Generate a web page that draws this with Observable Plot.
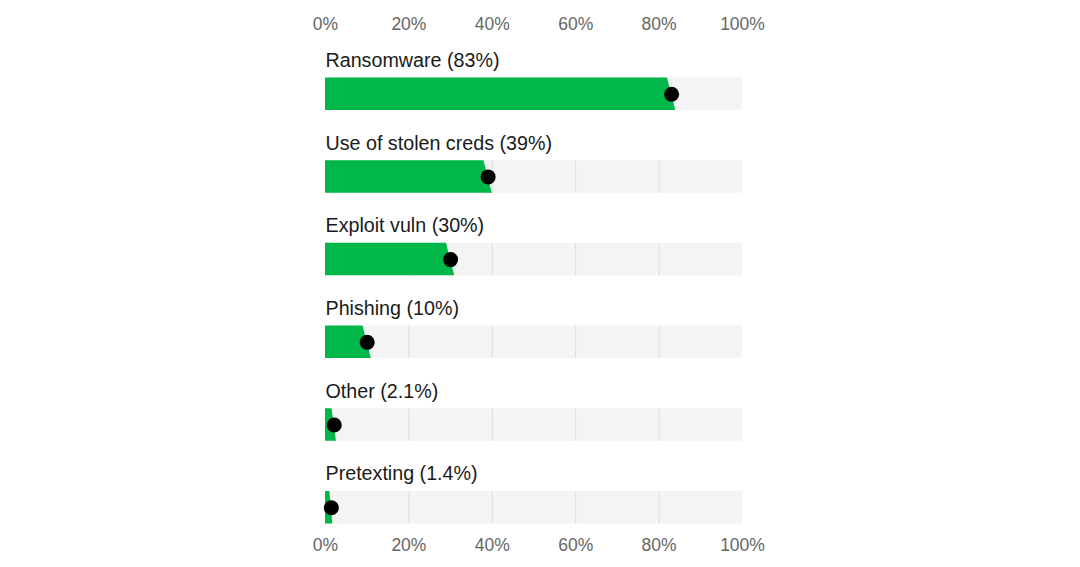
<!DOCTYPE html>
<html>
<head>
<meta charset="utf-8">
<script src="https://cdn.jsdelivr.net/npm/d3@7"></script>
<script src="https://cdn.jsdelivr.net/npm/@observablehq/plot@0.6"></script>
<style>
  html, body { margin: 0; padding: 0; background: #fff; }
  #chart svg { display: block; }
</style>
</head>
<body>
<div id="chart"></div>
<script>
const categories = ["Ransomware", "Use of stolen creds", "Exploit vuln", "Phishing", "Other", "Pretexting"];
const values = [83, 39, 30, 10, 2.1, 1.4];
const valueLabels = ["83%", "39%", "30%", "10%", "2.1%", "1.4%"];
const tickValues = [0, 20, 40, 60, 80, 100];
const gridValues = [20, 40, 60, 80];

const W = 1080, H = 567;
const rowPitch = 82.7, y0 = 52;
const bandTop = 0.308, bandBot = 0.701, labelPos = 0.097;

const rows = categories.map((c, i) => ({i, cat: c, v: values[i], label: `${c} (${valueLabels[i]})`}));
const areaPts = rows.flatMap(r => {
  const s = Math.min(1, r.v * 0.25);
  return [
    {row: r.i, y: r.i + bandTop, x: Math.max(0, r.v - s)},
    {row: r.i, y: r.i + bandBot, x: r.v + s}
  ];
});
const gridPts = rows.flatMap(r => gridValues.map(g => ({row: r.i, x: g})));

const chart = Plot.plot({
  width: W,
  height: H,
  marginLeft: 325,
  marginRight: 338,
  marginTop: 35,
  marginBottom: 35,
  style: {fontFamily: "'Liberation Sans', Arial, sans-serif", background: "#fff"},
  x: {domain: [0, 100], axis: null},
  y: {type: "linear", domain: [0, 6], range: [y0, y0 + 6 * rowPitch], axis: null},
  marks: [
    Plot.axisX({anchor: "top", ticks: tickValues, tickSize: 0, tickPadding: 6, tickFormat: d => d + "%", fontSize: 17.5, color: "#666", label: null}),
    Plot.axisX({anchor: "bottom", ticks: tickValues, tickSize: 0, tickPadding: 6, tickFormat: d => d + "%", fontSize: 17.5, color: "#666", label: null}),
    Plot.rect(rows, {x1: 0, x2: 100, y1: d => d.i + bandTop, y2: d => d.i + bandBot, fill: "#f4f4f4"}),
    Plot.ruleX(gridPts, {x: "x", y1: d => d.row + bandTop, y2: d => d.row + bandBot, stroke: "#dcdcdc", strokeWidth: 1}),
    Plot.areaX(areaPts, {x1: 0, x2: "x", y: "y", z: "row", fill: "#00b84a", curve: "linear"}),
    Plot.dot(rows, {x: "v", y: d => d.i + (bandTop + bandBot) / 2, r: 7.5, fill: "#000", stroke: null}),
    Plot.text(rows, {x: 0, y: d => d.i + labelPos, text: "label", textAnchor: "start", fontSize: 19.7, fill: "#1a1a1a", dx: 0})
  ]
});
document.getElementById("chart").appendChild(chart);
</script>
</body>
</html>
